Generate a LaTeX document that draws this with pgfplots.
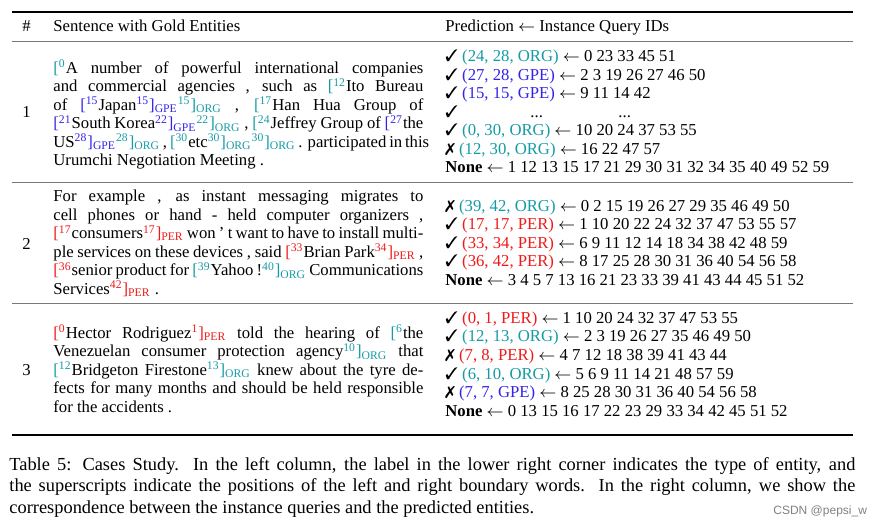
\documentclass[border=0pt]{standalone}
\usepackage{pgfplots}
\pgfplotsset{compat=1.18}
\usepackage{fontspec}
\usepackage{pifont}
\setmainfont{Liberation Serif}
\setsansfont{Liberation Sans}

\definecolor{orgc}{RGB}{20,155,165}
\definecolor{gpec}{RGB}{50,35,235}
\definecolor{perc}{RGB}{240,25,25}
\definecolor{rulegray}{RGB}{120,120,120}

% entity brackets: left with start index, right with end index and type
\newcommand{\lb}[2]{\textcolor{#1}{[\textsuperscript{#2}}}
\newcommand{\rb}[3]{\textcolor{#1}{\textsuperscript{#2}]\textsubscript{#3}}}
% justified lines
\newcommand{\jl}[1]{\hbox to 185pt{#1}}
\newcommand{\cl}[1]{\hbox to 423pt{#1}}
\newcommand{\ok}{\ding{51}}
\newcommand{\no}{\ding{55}}
\newcommand{\la}{$\leftarrow$}
\newcommand{\body}{\fontsize{8.35}{10}\selectfont}
\newcommand{\capf}{\fontsize{9.2}{11}\selectfont}

\begin{document}
\begin{tikzpicture}[t/.style={anchor=base west, inner sep=0pt, font=\body}]
\begin{axis}[
    scale only axis,
    width=441.5pt, height=263pt,
    xmin=0, xmax=883, ymin=0, ymax=526,
    y dir=reverse,
    hide axis,
    clip=false,
]
\addplot[draw=none] coordinates {(0,0)(883,526)};

% rules
\addplot[black, line width=1.1pt] coordinates {(12,12)(853,12)};
\addplot[rulegray, line width=0.7pt] coordinates {(12,41.7)(853,41.7)};
\addplot[rulegray, line width=0.7pt] coordinates {(12,182.3)(853,182.3)};
\addplot[rulegray, line width=0.7pt] coordinates {(12,303.3)(853,303.3)};
\addplot[black, line width=1.1pt] coordinates {(12,435)(853,435)};

% header
\node[t] at (axis cs:22,31.7) {\#};
\node[t] at (axis cs:53,31.7) {Sentence with Gold Entities};
\node[t] at (axis cs:445,31.7) {Prediction \la{} Instance Query IDs};

% row 1
\node[t] at (axis cs:22,117.3) {1};
\node[t] at (axis cs:53,73.3) {\jl{\lb{orgc}{0}A number of powerful international companies}};
\node[t] at (axis cs:53,91.8) {\jl{and commercial agencies , such as \lb{orgc}{12}Ito Bureau}};
\node[t] at (axis cs:53,110.3) {\jl{of \lb{gpec}{15}Japan\rb{gpec}{15}{GPE}\rb{orgc}{15}{ORG} , \lb{orgc}{17}Han Hua Group of}};
\node[t] at (axis cs:53,128.8) {\jl{\lb{gpec}{21}South Korea\rb{gpec}{22}{GPE}\rb{orgc}{22}{ORG} , \lb{orgc}{24}Jeffrey Group of \lb{gpec}{27}the}};
\node[t] at (axis cs:53,147.3) {\jl{US\rb{gpec}{28}{GPE}\rb{orgc}{28}{ORG} , \lb{orgc}{30}etc\rb{orgc}{30}{ORG}\rb{orgc}{30}{ORG} . participated in this}};
\node[t] at (axis cs:53,165.8) {Urumchi Negotiation Meeting .};

\node[t] at (axis cs:445,61.7) {\ok\ \textcolor{orgc}{(24, 28, ORG)} \la{} 0 23 33 45 51};
\node[t] at (axis cs:445,80.2) {\ok\ \textcolor{gpec}{(27, 28, GPE)} \la{} 2 3 19 26 27 46 50};
\node[t] at (axis cs:445,98.7) {\ok\ \textcolor{gpec}{(15, 15, GPE)} \la{} 9 11 14 42};
\node[t] at (axis cs:445,117.2) {\ok};
\node[t] at (axis cs:530,117.2) {...};
\node[t] at (axis cs:618,117.2) {...};
\node[t] at (axis cs:445,135.7) {\ok\ \textcolor{orgc}{(0, 30, ORG)} \la{} 10 20 24 37 53 55};
\node[t] at (axis cs:445,154.2) {\no\ \textcolor{orgc}{(12, 30, ORG)} \la{} 16 22 47 57};
\node[t] at (axis cs:445,172.7) {\textbf{None} \la{} 1 12 13 15 17 21 29 30 31 32 34 35 40 49 52 59};

% row 2
\node[t] at (axis cs:22,249) {2};
\node[t] at (axis cs:53,201.7) {\jl{For example , as instant messaging migrates to}};
\node[t] at (axis cs:53,220.2) {\jl{cell phones or hand - held computer organizers ,}};
\node[t] at (axis cs:53,238.8) {\jl{\lb{perc}{17}consumers\rb{perc}{17}{PER} won ’ t want to have to install multi-}};
\node[t] at (axis cs:53,257.3) {\jl{ple services on these devices , said \lb{perc}{33}Brian Park\rb{perc}{34}{PER} ,}};
\node[t] at (axis cs:53,275.9) {\jl{\lb{perc}{36}senior product for \lb{orgc}{39}Yahoo !\rb{orgc}{40}{ORG} Communications}};
\node[t] at (axis cs:53,294.5) {Services\rb{perc}{42}{PER} .};

\node[t] at (axis cs:445,211) {\no\ \textcolor{orgc}{(39, 42, ORG)} \la{} 0 2 15 19 26 27 29 35 46 49 50};
\node[t] at (axis cs:445,229.5) {\ok\ \textcolor{perc}{(17, 17, PER)} \la{} 1 10 20 22 24 32 37 47 53 55 57};
\node[t] at (axis cs:445,248) {\ok\ \textcolor{perc}{(33, 34, PER)} \la{} 6 9 11 12 14 18 34 38 42 48 59};
\node[t] at (axis cs:445,266.5) {\ok\ \textcolor{perc}{(36, 42, PER)} \la{} 8 17 25 28 30 31 36 40 54 56 58};
\node[t] at (axis cs:445,285) {\textbf{None} \la{} 3 4 5 7 13 16 21 23 33 39 41 43 44 45 51 52};

% row 3
\node[t] at (axis cs:22,375) {3};
\node[t] at (axis cs:53,338.3) {\jl{\lb{perc}{0}Hector Rodriguez\rb{perc}{1}{PER} told the hearing of \lb{orgc}{6}the}};
\node[t] at (axis cs:53,356.8) {\jl{Venezuelan consumer protection agency\rb{orgc}{10}{ORG} that}};
\node[t] at (axis cs:53,375.3) {\jl{\lb{orgc}{12}Bridgeton Firestone\rb{orgc}{13}{ORG} knew about the tyre de-}};
\node[t] at (axis cs:53,393.8) {\jl{fects for many months and should be held responsible}};
\node[t] at (axis cs:53,412.3) {for the accidents .};

\node[t] at (axis cs:445,323.3) {\ok\ \textcolor{perc}{(0, 1, PER)} \la{} 1 10 20 24 32 37 47 53 55};
\node[t] at (axis cs:445,341.9) {\ok\ \textcolor{orgc}{(12, 13, ORG)} \la{} 2 3 19 26 27 35 46 49 50};
\node[t] at (axis cs:445,360.5) {\no\ \textcolor{perc}{(7, 8, PER)} \la{} 4 7 12 18 38 39 41 43 44};
\node[t] at (axis cs:445,379.1) {\ok\ \textcolor{orgc}{(6, 10, ORG)} \la{} 5 6 9 11 14 21 48 57 59};
\node[t] at (axis cs:445,397.7) {\no\ \textcolor{gpec}{(7, 7, GPE)} \la{} 8 25 28 30 31 36 40 54 56 58};
\node[t] at (axis cs:445,416.3) {\textbf{None} \la{} 0 13 15 16 17 22 23 29 33 34 42 45 51 52};

% caption
\node[t, font=\capf] at (axis cs:9,470) {\cl{Table 5: Cases Study.\ \ In the left column, the label in the lower right corner indicates the type of entity, and}};
\node[t, font=\capf] at (axis cs:9,491.7) {\cl{the superscripts indicate the positions of the left and right boundary words.\ \ In the right column, we show the}};
\node[t, font=\capf] at (axis cs:9,513.3) {correspondence between the instance queries and the predicted entities.};
\node[t, font=\sffamily\fontsize{6}{7}\selectfont, text=gray] at (axis cs:773,514) {CSDN @pepsi\_w};
\end{axis}
\end{tikzpicture}
\end{document}
